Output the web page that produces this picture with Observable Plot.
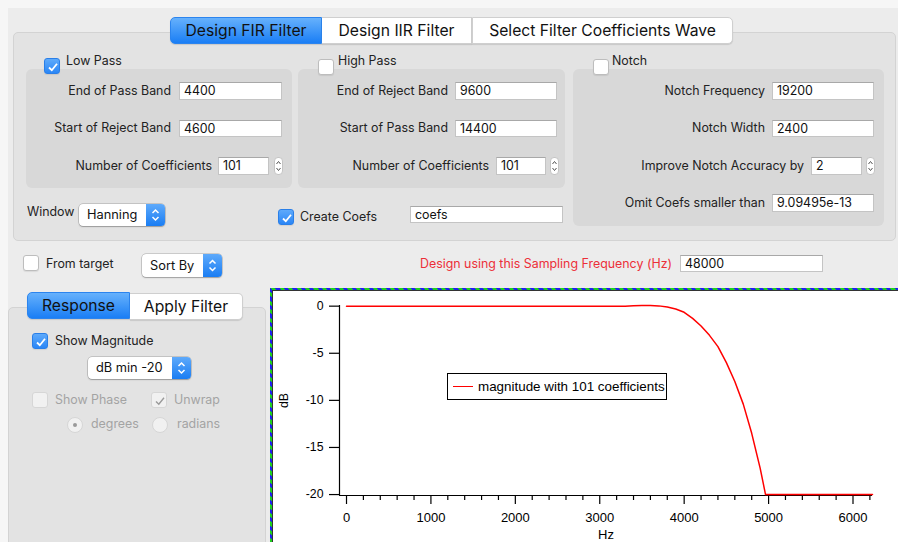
<!DOCTYPE html>
<html><head><meta charset="utf-8">
<script src="https://cdn.jsdelivr.net/npm/d3@7"></script>
<script src="https://cdn.jsdelivr.net/npm/@observablehq/plot@0.6"></script>
<style>
html,body{margin:0;padding:0;}
body{width:898px;height:542px;position:relative;overflow:hidden;background:#f6f6f6;font-family:Inter,"Open Sans",sans-serif;font-size:12.4px;color:#222;}
.a{position:absolute;box-sizing:border-box;}
.win{background:#ececec;}
.panel{background:#e3e3e3;border:1px solid #d3d3d3;border-radius:5px;}
.group{background:#d8d8d8;border-radius:6px;}
.lbl{position:absolute;white-space:nowrap;line-height:16px;height:16px;}
.field{background:#fff;border:1px solid #c4c4c4;border-top-color:#a8a8a8;padding-left:4px;line-height:15px;font-size:12.4px;color:#111;white-space:nowrap;overflow:hidden;}
.tab{display:flex;align-items:center;justify-content:center;font-size:15.7px;background:#fff;border:1px solid #cfcfcf;color:#111;box-shadow:0 1px 1px rgba(0,0,0,.12);}
.sel{background:linear-gradient(#66b1fc,#1a7ef5);border-color:#2b84ee;}
.cb{width:16px;height:16px;border-radius:3px;background:#fff;border:1px solid #bdbdbd;box-shadow:0 1px 1px rgba(0,0,0,.08);}
.cb.on{background:linear-gradient(#5eaafb,#2a86f6);border-color:#2a7fe8;}
.cb.dis{background:#f1f1f1;border-color:#d6d6d6;box-shadow:none;}
.cb svg{position:absolute;left:0;top:0;}
.popup{background:#fff;border-radius:4px;box-shadow:0 0 0 .5px rgba(0,0,0,.28),0 1px 1.5px rgba(0,0,0,.22);font-size:12.8px;color:#111;}
.popup span{position:absolute;left:8px;top:50%;transform:translateY(-52%);white-space:nowrap;}
.pbtn{position:absolute;right:0;top:0;width:19px;height:100%;background:linear-gradient(#5eaafb,#1a7df3);border-radius:0 4px 4px 0;}
.stepper{background:#fff;border:1px solid #c4c4c4;border-radius:4px;}
.radio{width:16px;height:16px;border-radius:50%;background:#f1f1f1;border:1px solid #d6d6d6;}
.gray{color:#a3a3a3;}
</style></head>
<body>
<div class="a win" style="left:8px;top:8px;width:890px;height:534px"></div>

<!-- Main FIR panel -->
<div class="a panel" style="left:13px;top:32px;width:883px;height:209px"></div>
<div class="a group" style="left:26px;top:69px;width:266px;height:119px"></div>
<div class="a group" style="left:298px;top:69px;width:267px;height:119px"></div>
<div class="a group" style="left:573px;top:69px;width:311px;height:157px"></div>

<div class="a tab sel" style="left:170px;top:17px;width:152px;height:27px;border-radius:5px 0 0 5px">Design FIR Filter</div>
<div class="a tab" style="left:322px;top:17px;width:150px;height:27px;border-left:none">Design IIR Filter</div>
<div class="a tab" style="left:472px;top:17px;width:261px;height:27px;border-radius:0 5px 5px 0">Select Filter Coefficients Wave</div>

<!-- Low pass -->
<div class="a cb on" style="left:44px;top:58px"><svg width="16" height="16"><polyline points="4,8.5 6.8,11.2 12,4.8" fill="none" stroke="#fff" stroke-width="1.8"/></svg></div>
<div class="lbl" style="left:66px;top:53px">Low Pass</div>
<div class="lbl" style="right:727px;top:83px">End of Pass Band</div>
<div class="a field" style="left:179px;top:82px;width:103px;height:18px">4400</div>
<div class="lbl" style="right:727px;top:120px">Start of Reject Band</div>
<div class="a field" style="left:179px;top:120px;width:103px;height:17px">4600</div>
<div class="lbl" style="right:686px;top:158px">Number of Coefficients</div>
<div class="a field" style="left:218px;top:157px;width:51px;height:18px">101</div>
<div class="a stepper" style="left:274px;top:157px;width:9px;height:18px"><svg width="9" height="18" style="position:absolute;left:-1px;top:-1px"><polyline points="2.5,7 4.5,4.5 6.5,7" fill="none" stroke="#555" stroke-width="1"/><polyline points="2.5,11 4.5,13.5 6.5,11" fill="none" stroke="#555" stroke-width="1"/></svg></div>

<!-- High pass -->
<div class="a cb" style="left:318px;top:59px"></div>
<div class="lbl" style="left:338px;top:53px">High Pass</div>
<div class="lbl" style="right:450px;top:83px">End of Reject Band</div>
<div class="a field" style="left:455px;top:82px;width:102px;height:18px">9600</div>
<div class="lbl" style="right:450px;top:120px">Start of Pass Band</div>
<div class="a field" style="left:455px;top:120px;width:102px;height:17px">14400</div>
<div class="lbl" style="right:409px;top:158px">Number of Coefficients</div>
<div class="a field" style="left:496px;top:157px;width:50px;height:18px">101</div>
<div class="a stepper" style="left:550px;top:157px;width:9px;height:18px"><svg width="9" height="18" style="position:absolute;left:-1px;top:-1px"><polyline points="2.5,7 4.5,4.5 6.5,7" fill="none" stroke="#555" stroke-width="1"/><polyline points="2.5,11 4.5,13.5 6.5,11" fill="none" stroke="#555" stroke-width="1"/></svg></div>

<!-- Notch -->
<div class="a cb" style="left:593px;top:59px"></div>
<div class="lbl" style="left:612px;top:53px">Notch</div>
<div class="lbl" style="right:133px;top:83px">Notch Frequency</div>
<div class="a field" style="left:772px;top:82px;width:102px;height:18px">19200</div>
<div class="lbl" style="right:133px;top:120px">Notch Width</div>
<div class="a field" style="left:772px;top:120px;width:102px;height:17px">2400</div>
<div class="lbl" style="right:94px;top:158px">Improve Notch Accuracy by</div>
<div class="a field" style="left:811px;top:157px;width:51px;height:18px">2</div>
<div class="a stepper" style="left:866px;top:157px;width:9px;height:18px"><svg width="9" height="18" style="position:absolute;left:-1px;top:-1px"><polyline points="2.5,7 4.5,4.5 6.5,7" fill="none" stroke="#555" stroke-width="1"/><polyline points="2.5,11 4.5,13.5 6.5,11" fill="none" stroke="#555" stroke-width="1"/></svg></div>
<div class="lbl" style="right:133px;top:195px">Omit Coefs smaller than</div>
<div class="a field" style="left:772px;top:194px;width:102px;height:18px">9.09495e-13</div>

<!-- Window row -->
<div class="lbl" style="left:27px;top:204px">Window</div>
<div class="a popup" style="left:79px;top:204px;width:86px;height:22px"><span>Hanning</span><div class="pbtn"><svg width="19" height="22"><polyline points="6.5,9 9.5,6 12.5,9" fill="none" stroke="#fff" stroke-width="1.5"/><polyline points="6.5,13 9.5,16 12.5,13" fill="none" stroke="#fff" stroke-width="1.5"/></svg></div></div>
<div class="a cb on" style="left:278px;top:209px"><svg width="16" height="16"><polyline points="4,8.5 6.8,11.2 12,4.8" fill="none" stroke="#fff" stroke-width="1.8"/></svg></div>
<div class="lbl" style="left:300px;top:209px">Create Coefs</div>
<div class="a field" style="left:410px;top:206px;width:153px;height:17px">coefs</div>

<!-- Second row -->
<div class="a cb" style="left:23px;top:255px"></div>
<div class="lbl" style="left:46px;top:256px">From target</div>
<div class="a popup" style="left:142px;top:254px;width:80px;height:23px"><span>Sort By</span><div class="pbtn"><svg width="19" height="23"><polyline points="6.5,9.5 9.5,6.5 12.5,9.5" fill="none" stroke="#fff" stroke-width="1.5"/><polyline points="6.5,13.5 9.5,16.5 12.5,13.5" fill="none" stroke="#fff" stroke-width="1.5"/></svg></div></div>
<div class="lbl" style="right:226px;top:256px;color:#ec2f38">Design using this Sampling Frequency (Hz)</div>
<div class="a field" style="left:680px;top:255px;width:143px;height:17px">48000</div>

<!-- Response panel -->
<div class="a panel" style="left:8px;top:307px;width:258px;height:245px;border-radius:5px 5px 0 0"></div>
<div class="a tab sel" style="left:27px;top:292px;width:103px;height:27px;border-radius:5px 0 0 5px">Response</div>
<div class="a tab" style="left:130px;top:293px;width:113px;height:27px;border-radius:0 5px 5px 0;border-left:none">Apply Filter</div>
<div class="a cb on" style="left:32px;top:333px"><svg width="16" height="16"><polyline points="4,8.5 6.8,11.2 12,4.8" fill="none" stroke="#fff" stroke-width="1.8"/></svg></div>
<div class="lbl" style="left:55px;top:333px">Show Magnitude</div>
<div class="a popup" style="left:88px;top:357px;width:103px;height:22px"><span>dB min -20</span><div class="pbtn"><svg width="19" height="22"><polyline points="6.5,9 9.5,6 12.5,9" fill="none" stroke="#fff" stroke-width="1.5"/><polyline points="6.5,13 9.5,16 12.5,13" fill="none" stroke="#fff" stroke-width="1.5"/></svg></div></div>
<div class="a cb dis" style="left:32px;top:392px"></div>
<div class="lbl gray" style="left:55px;top:392px">Show Phase</div>
<div class="a cb dis" style="left:151px;top:392px"><svg width="16" height="16"><polyline points="4,8.5 6.8,11.2 12,4.8" fill="none" stroke="#9a9a9a" stroke-width="1.4"/></svg></div>
<div class="lbl gray" style="left:174px;top:392px">Unwrap</div>
<div class="a radio" style="left:67px;top:417px"><div class="a" style="left:5px;top:5px;width:4px;height:4px;border-radius:50%;background:#9a9a9a"></div></div>
<div class="lbl gray" style="left:91px;top:416px">degrees</div>
<div class="a radio" style="left:152px;top:417px"></div>
<div class="lbl gray" style="left:177px;top:416px">radians</div>

<!-- Graph window -->
<div class="a" style="left:270px;top:288px;width:628px;height:254px;background:repeating-linear-gradient(45deg,#1fd01f 0 3px,#2020f0 3px 6px)"></div>
<div class="a" style="left:272px;top:290px;width:626px;height:252px;background:#fff;border-top:1px solid #333;border-left:1px solid #333"></div>
<div id="chart" class="a" style="left:272px;top:290px;width:626px;height:252px"></div>
<div class="a" style="left:447px;top:373px;width:220px;height:27px;background:#fff;border:1px solid #000;font-family:'Liberation Sans',Arial,sans-serif;font-size:13.4px;color:#000">
  <div class="a" style="left:5px;top:12px;width:20px;height:0;border-top:1.5px solid #ff0000"></div>
  <div class="lbl" style="left:30px;top:4px;line-height:17px">magnitude with 101 coefficients</div>
</div>

<script>
// Magnitude response (Hz, dB), clipped at dB min -20
const freqHz = [0, 3300, 3400, 3500, 3600, 3700, 3800, 3900, 4000, 4100, 4200, 4300, 4400, 4500, 4600, 4700, 4800, 4900, 4964, 5000, 6231];
const magnitudeDb = [0, 0, 0.04, 0.06, 0.06, 0.03, -0.08, -0.3, -0.65, -1.3, -2.1, -3.1, -4.3, -6.0, -8.0, -10.4, -13.5, -17.2, -20, -20, -20];
const xMajorTicks = [0, 1000, 2000, 3000, 4000, 5000, 6000];
const xMinorTicks = [200, 400, 600, 800, 1200, 1400, 1600, 1800, 2200, 2400, 2600, 2800, 3200, 3400, 3600, 3800, 4200, 4400, 4600, 4800, 5200, 5400, 5600, 5800, 6200];
const yTicks = [0, -5, -10, -15, -20];
const xDomain = [-83, 6231];
const yDomain = [-20.1, 0.07];

const data = freqHz.map((hz, i) => ({hz, db: magnitudeDb[i]}));

const chart = Plot.plot({
  width: 626, height: 252,
  marginLeft: 67, marginRight: 26, marginTop: 15, marginBottom: 47,
  style: {fontFamily: '"Liberation Sans", Arial, sans-serif', fontSize: "12.3px", color: "#000", background: "transparent", overflow: "visible"},
  x: {domain: xDomain},
  y: {domain: yDomain},
  marks: [
    Plot.axisX({ticks: xMinorTicks, tickSize: 5, tickFormat: () => "", label: null, strokeWidth: 1.2}),
    Plot.axisX({ticks: xMajorTicks, tickSize: 9, tickPadding: 8, tickFormat: d => String(d), label: "Hz", labelAnchor: "center", labelArrow: "none", labelOffset: 43, strokeWidth: 1.2, fontSize: 13}),
    Plot.axisY({ticks: yTicks, tickSize: 10, tickPadding: 6, tickFormat: d => String(d), label: "dB", labelAnchor: "center", labelArrow: "none", labelOffset: 60, strokeWidth: 1.2}),
    Plot.ruleX([xDomain[0]], {stroke: "#000", strokeWidth: 1.2}),
    Plot.ruleY([yDomain[0]], {stroke: "#000", strokeWidth: 1.2}),
    Plot.line(data, {x: "hz", y: "db", stroke: "#ff0000", strokeWidth: 1.5})
  ]
});
document.getElementById("chart").appendChild(chart);
</script>
</body></html>
